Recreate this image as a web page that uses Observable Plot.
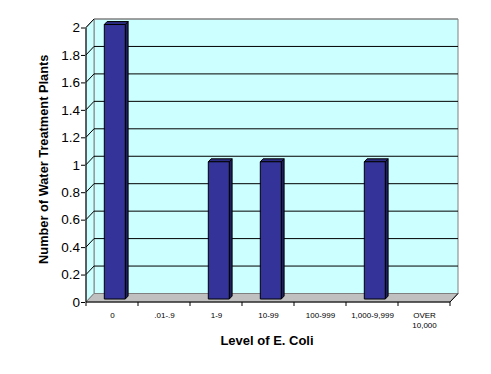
<!DOCTYPE html>
<html><head><meta charset="utf-8">
<script src="https://cdn.jsdelivr.net/npm/d3@7"></script>
<script src="https://cdn.jsdelivr.net/npm/@observablehq/plot@0.6"></script>
<style>body{margin:0;background:#fff;}</style>
</head><body><div id="chart"></div>
<script>
const categories = ["0", ".01-.9", "1-9", "10-99", "100-999", "1,000-9,999", "OVER\n10,000"];
const counts = [2, 0, 1, 1, 0, 1, 0];
const yTicks = [0, 0.2, 0.4, 0.6, 0.8, 1, 1.2, 1.4, 1.6, 1.8, 2];
const xTitle = "Level of E. Coli";
const yTitle = "Number of Water Treatment Plants";

const data = categories.map((c, i) => ({category: c, count: counts[i]}));

const DX = 8, DY = -8.5;          // depth of the 3-D box (px)
const F1 = 0.35, F2 = 0.7;        // bar front/back depth fractions
const BAR_W = 21;

function poly(g, pts, fill, stroke, sw = 1) {
  g.append("polygon")
    .attr("points", pts.map(p => p.join(",")).join(" "))
    .attr("fill", fill).attr("stroke", stroke).attr("stroke-width", sw)
    .attr("stroke-linejoin", "miter");
}

function walls(index, {x, y}) {
  const g = d3.create("svg:g");
  const xa = x(categories[0]), xb = x(categories[categories.length - 1]) + x.bandwidth();
  const y0 = y(0), y1 = y(yTicks[yTicks.length - 1]);
  poly(g, [[xa + DX, y1 + DY], [xb + DX, y1 + DY], [xb + DX, y0 + DY], [xa + DX, y0 + DY]], "#ccffff", "#808080");
  poly(g, [[xa, y1], [xa + DX, y1 + DY], [xa + DX, y0 + DY], [xa, y0]], "#ccffff", "#808080");
  poly(g, [[xa, y0], [xb, y0], [xb + DX, y0 + DY], [xa + DX, y0 + DY]], "#c0c0c0", "#808080");
  for (const t of yTicks) {
    if (t === 0) continue;
    const yy = y(t);
    const col = t === yTicks[yTicks.length - 1] ? "#808080" : "#000";
    g.append("line").attr("x1", xa + DX).attr("x2", xb + DX).attr("y1", yy + DY).attr("y2", yy + DY)
      .attr("stroke", col);
    g.append("line").attr("x1", xa).attr("x2", xa + DX).attr("y1", yy).attr("y2", yy + DY)
      .attr("stroke", "#000");
  }
  return g.node();
}

function bars(index, {x, y}) {
  const g = d3.create("svg:g");
  const bw = x.bandwidth();
  const inset = (bw - BAR_W) / 2;
  const ddx = DX * (F2 - F1), ddy = DY * (F2 - F1);
  for (const d of data) {
    if (!d.count) continue;
    const bx = x(d.category) + inset + DX * F1;
    const yt = y(d.count) + DY * F1;
    const yb = y(0) + DY * F1;
    poly(g, [[bx + BAR_W, yt], [bx + BAR_W + ddx, yt + ddy], [bx + BAR_W + ddx, yb + ddy], [bx + BAR_W, yb]], "#1f1f5c", "#000");
    poly(g, [[bx, yt], [bx + BAR_W, yt], [bx + BAR_W + ddx, yt + ddy], [bx + ddx, yt + ddy]], "#2b2b80", "#000");
    poly(g, [[bx, yt], [bx + BAR_W, yt], [bx + BAR_W, yb], [bx, yb]], "#333399", "#000");
  }
  return g.node();
}

function axes(index, {x, y}) {
  const g = d3.create("svg:g");
  const xa = x(categories[0]), xb = x(categories[categories.length - 1]) + x.bandwidth();
  const y0 = y(0), y1 = y(yTicks[yTicks.length - 1]);
  g.append("line").attr("x1", xa).attr("x2", xa).attr("y1", y1).attr("y2", y0).attr("stroke", "#000");
  g.append("line").attr("x1", xa).attr("x2", xb).attr("y1", y0).attr("y2", y0).attr("stroke", "#000");
  g.append("line").attr("x1", xb).attr("x2", xb + DX).attr("y1", y0).attr("y2", y0 + DY).attr("stroke", "#000");
  const bounds = categories.map(c => x(c)).concat([xb]);
  for (const bx of bounds) {
    g.append("line").attr("x1", bx).attr("x2", bx).attr("y1", y0).attr("y2", y0 + 4).attr("stroke", "#000");
  }
  return g.node();
}

const chart = Plot.plot({
  width: 491, height: 374,
  marginLeft: 85, marginRight: 40, marginTop: 27.5, marginBottom: 72,
  style: {fontFamily: "'Liberation Sans', Arial, sans-serif", background: "#fff", color: "#000"},
  x: {type: "band", domain: categories, padding: 0, axis: null},
  y: {domain: [0, 2], axis: null},
  marks: [
    walls,
    bars,
    axes,
    Plot.axisY({ticks: yTicks, tickFormat: d => String(+d.toFixed(1)), tickSize: 4, tickPadding: 1.5,
      fontSize: 13.5, label: null, stroke: "#000", fill: "#000"}),
    Plot.axisX({tickSize: 0, tickPadding: 8.5, fontSize: 8, lineHeight: 1.25, label: null, fill: "#000"}),
    Plot.text([xTitle], {frameAnchor: "bottom", dx: -1.5, dy: 42, fontWeight: "bold", fontSize: 13, fill: "#000"}),
    Plot.text([yTitle], {frameAnchor: "left", dx: -42, dy: -6, rotate: -90, textAnchor: "middle",
      fontWeight: "bold", fontSize: 12.8, fill: "#000"})
  ]
});
document.getElementById("chart").appendChild(chart);
</script>
</body></html>
